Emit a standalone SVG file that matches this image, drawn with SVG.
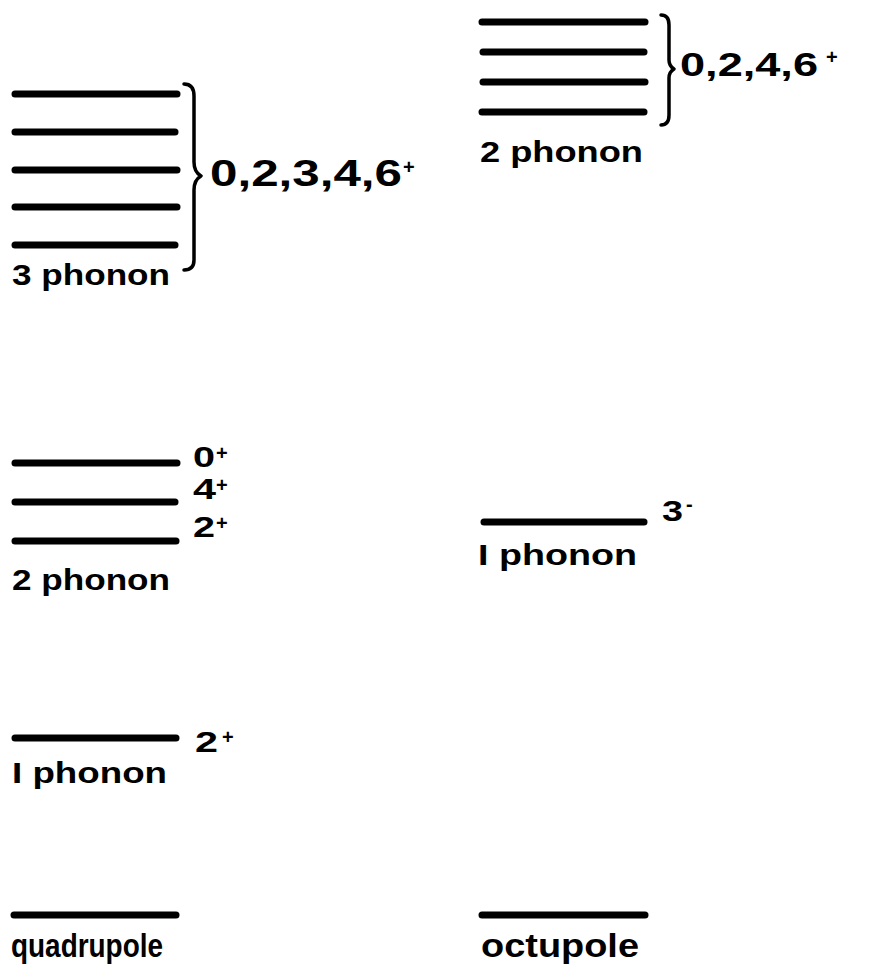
<svg xmlns="http://www.w3.org/2000/svg" width="874" height="974" viewBox="0 0 874 974">
<style>
.lvl{stroke:#000;stroke-width:7;stroke-linecap:round;fill:none}
.br{stroke:#000;stroke-width:3.5;fill:none;stroke-linecap:round;stroke-linejoin:round}
text{font-family:"Liberation Sans","DejaVu Sans",sans-serif;font-weight:bold;font-size:30px;fill:#000}
.big{font-size:37px}
.mid{font-size:34px}
.gnd{font-size:34px}
.sup{font-size:20px}
</style>
<rect width="874" height="974" fill="#fff"/>
<g id="quad-3phonon">
<line class="lvl" x1="15" y1="94" x2="177" y2="94"/>
<line class="lvl" x1="15" y1="132" x2="175" y2="132"/>
<line class="lvl" x1="15" y1="170" x2="177" y2="170"/>
<line class="lvl" x1="15" y1="207" x2="177" y2="207"/>
<line class="lvl" x1="15" y1="245" x2="175" y2="245"/>
<path class="br" d="M184,84 Q194,84 194,96 L194,162 Q194,172 201,176 Q194,180 194,190 L194,260 Q194,270 184,270"/>
<text class="big" x="210" y="186" textLength="192" lengthAdjust="spacingAndGlyphs">0,2,3,4,6</text><text class="sup" x="403" y="174">+</text>
<text x="12" y="285" textLength="158" lengthAdjust="spacingAndGlyphs">3 phonon</text>
</g>
<g id="oct-2phonon">
<line class="lvl" x1="482" y1="22" x2="645" y2="22"/>
<line class="lvl" x1="483" y1="52" x2="644" y2="52"/>
<line class="lvl" x1="483" y1="82" x2="645" y2="82"/>
<line class="lvl" x1="482" y1="112" x2="644" y2="112"/>
<path class="br" d="M661,15 Q669,15 669,25 L669,60 Q669,66 674,69 Q669,72 669,78 L669,115 Q669,125 661,125"/>
<text class="mid" x="680" y="76" textLength="138" lengthAdjust="spacingAndGlyphs">0,2,4,6</text><text class="sup" x="826" y="64">+</text>
<text x="480" y="162" textLength="163" lengthAdjust="spacingAndGlyphs">2 phonon</text>
</g>
<g id="quad-2phonon">
<line class="lvl" x1="15" y1="463" x2="177" y2="463"/>
<line class="lvl" x1="15" y1="502" x2="175" y2="502"/>
<line class="lvl" x1="15" y1="541" x2="176" y2="541"/>
<text x="193" y="467" textLength="22" lengthAdjust="spacingAndGlyphs">0</text><text class="sup" x="216" y="460">+</text>
<text x="193" y="499" textLength="23" lengthAdjust="spacingAndGlyphs">4</text><text class="sup" x="216" y="492">+</text>
<text x="193" y="537" textLength="22" lengthAdjust="spacingAndGlyphs">2</text><text class="sup" x="216" y="530">+</text>
<text x="12" y="590" textLength="158" lengthAdjust="spacingAndGlyphs">2 phonon</text>
</g>
<g id="oct-1phonon">
<line class="lvl" x1="484" y1="522" x2="644" y2="522"/>
<text x="662" y="521" textLength="21" lengthAdjust="spacingAndGlyphs">3</text><text class="sup" x="686" y="511">-</text>
<text x="478" y="565" textLength="159" lengthAdjust="spacingAndGlyphs">I phonon</text>
</g>
<g id="quad-1phonon">
<line class="lvl" x1="15" y1="738" x2="176" y2="738"/>
<text x="195" y="752" textLength="23" lengthAdjust="spacingAndGlyphs">2</text><text class="sup" x="222" y="744">+</text>
<text x="12" y="783" textLength="155" lengthAdjust="spacingAndGlyphs">I phonon</text>
</g>
<g id="quad-ground">
<line class="lvl" x1="14" y1="915" x2="176" y2="915"/>
<text class="gnd" x="11" y="957" textLength="152" lengthAdjust="spacingAndGlyphs">quadrupole</text>
</g>
<g id="oct-ground">
<line class="lvl" x1="482" y1="915" x2="645" y2="915"/>
<text class="gnd" x="481" y="957" textLength="158" lengthAdjust="spacingAndGlyphs">octupole</text>
</g>
<g id="connectors"></g>
</svg>
